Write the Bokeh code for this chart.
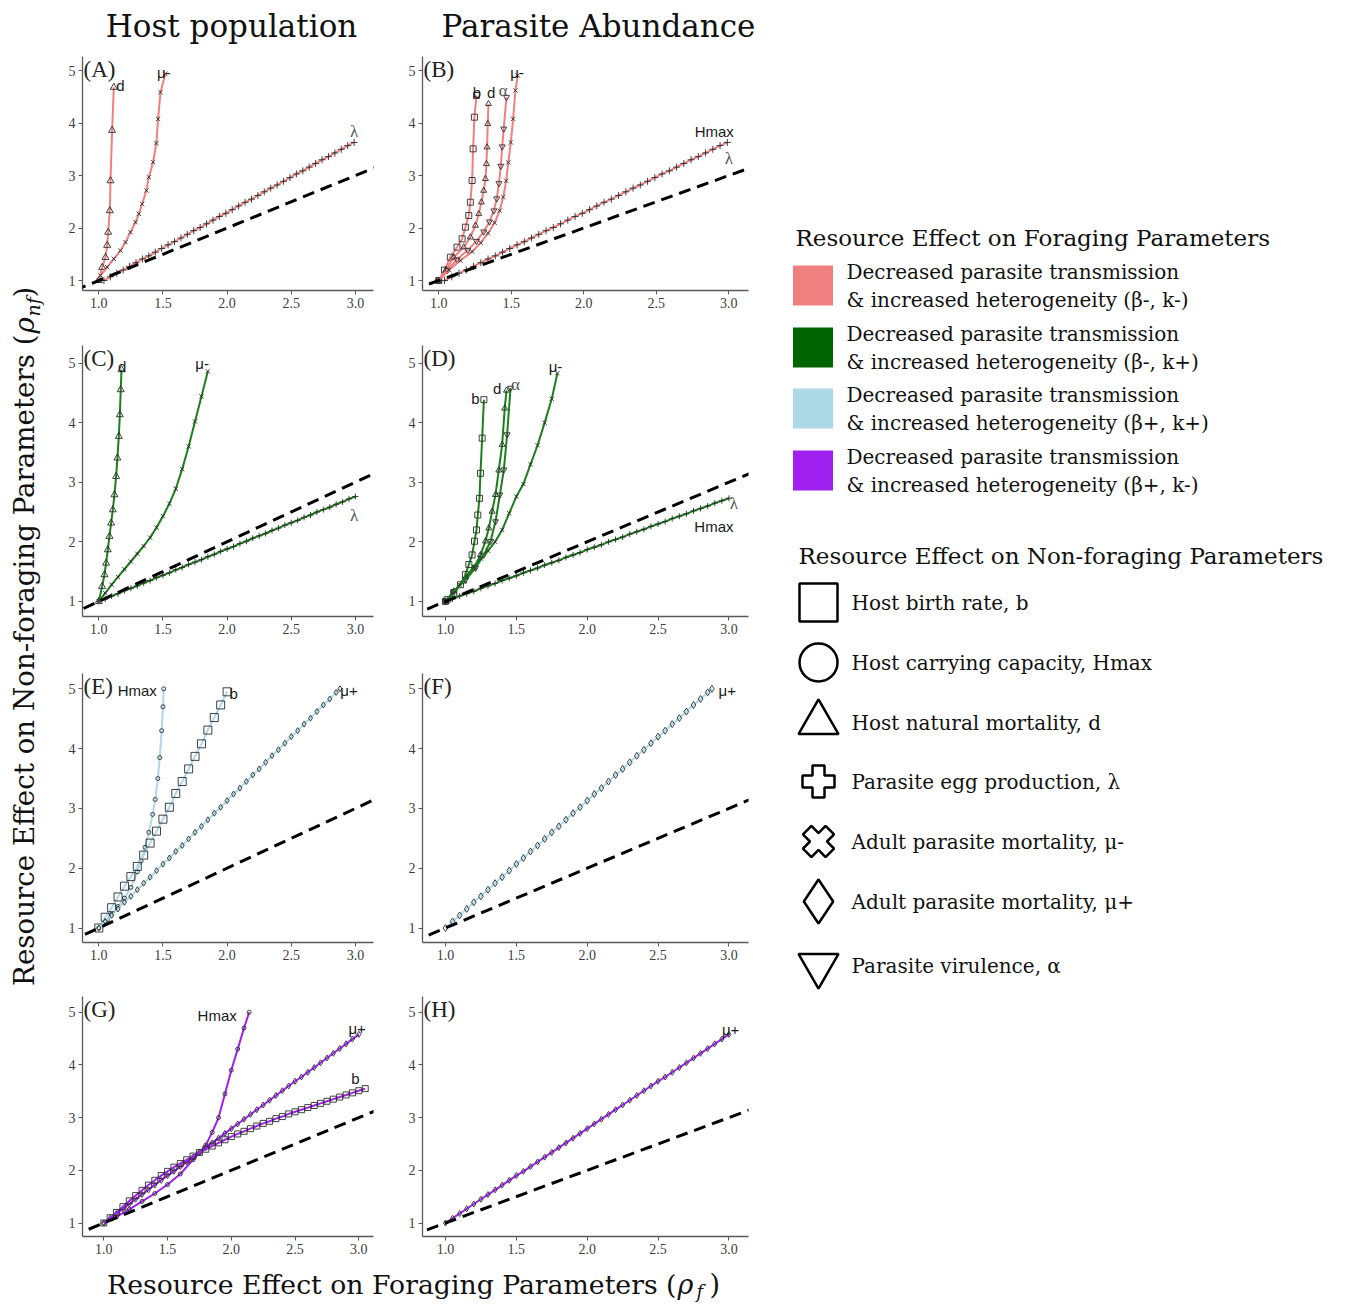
from math import pi
from bokeh.plotting import figure
from bokeh.models import Range1d, Label, Slope, FixedTicker, PrintfTickFormatter
from bokeh.layouts import row, column
from bokeh.core.properties import value
from bokeh.embed import file_html
from bokeh.resources import INLINE

# ---------------- colours / fonts ----------------
PINK = "#F08080"
DKGREEN = "#006400"
GREEN_LINE = "#1c7f1c"
LBLUE = "#ADD8E6"
PURPLE = "#A020F0"
SERIF = "DejaVu Serif"
TIMES = "Liberation Serif"
SANS = "Liberation Sans"

# ---------------- data ----------------
X_TICKS = [1.0, 1.5, 2.0, 2.5, 3.0]
Y_TICKS = [1, 2, 3, 4, 5]

# Panel A  (host population, beta-, k-)
A_d_x = [1.0, 1.026, 1.052, 1.065, 1.073, 1.086, 1.091, 1.104, 1.117]
A_d_y = [1.0, 1.25, 1.44, 1.67, 1.92, 2.33, 2.90, 3.86, 4.68]
A_mum_x = [1.0, 1.013, 1.065, 1.117, 1.169, 1.208, 1.247, 1.286, 1.312, 1.338, 1.371, 1.390, 1.423, 1.449, 1.462, 1.481, 1.519]
A_mum_y = [1.0, 1.095, 1.254, 1.413, 1.571, 1.730, 1.921, 2.111, 2.270, 2.460, 2.714, 2.968, 3.254, 3.616, 4.079, 4.587, 4.937]
A_lam_x = [1.04, 1.09, 1.14, 1.19, 1.24, 1.29, 1.34, 1.39, 1.44, 1.49, 1.54, 1.59, 1.64, 1.69, 1.74, 1.79, 1.84, 1.89, 1.94, 1.99,
           2.04, 2.09, 2.14, 2.19, 2.24, 2.29, 2.34, 2.39, 2.44, 2.49, 2.54, 2.59, 2.64, 2.69, 2.74, 2.79, 2.84, 2.89, 2.94, 2.99]
A_lam_y = [1.00, 1.07, 1.14, 1.20, 1.27, 1.34, 1.41, 1.47, 1.54, 1.61, 1.68, 1.74, 1.81, 1.88, 1.95, 2.01, 2.08, 2.15, 2.22, 2.28,
           2.35, 2.42, 2.49, 2.55, 2.62, 2.69, 2.76, 2.82, 2.89, 2.96, 3.03, 3.09, 3.16, 3.23, 3.30, 3.36, 3.43, 3.50, 3.57, 3.63]

# Panel B  (parasite abundance, beta-, k-)
B_b_x = [1.0, 1.04, 1.08, 1.126, 1.161, 1.184, 1.207, 1.218, 1.230, 1.237, 1.246, 1.260]
B_b_y = [1.0, 1.20, 1.444, 1.635, 1.794, 2.016, 2.238, 2.492, 2.905, 3.508, 4.111, 4.524]
B_d_x = [1.0, 1.05, 1.103, 1.172, 1.218, 1.253, 1.276, 1.294, 1.310, 1.322, 1.329, 1.333, 1.338, 1.343]
B_d_y = [1.0, 1.20, 1.444, 1.635, 1.825, 2.048, 2.270, 2.492, 2.714, 2.937, 3.222, 3.54, 3.984, 4.365]
B_alpha_x = [1.0, 1.06, 1.126, 1.20, 1.26, 1.31, 1.35, 1.38, 1.40, 1.415, 1.428, 1.438, 1.448, 1.467]
B_alpha_y = [1.0, 1.20, 1.40, 1.58, 1.75, 1.93, 2.12, 2.33, 2.56, 2.85, 3.18, 3.55, 3.89, 4.49]
B_mum_x = [1.0, 1.07, 1.149, 1.23, 1.29, 1.34, 1.385, 1.42, 1.445, 1.465, 1.48, 1.497, 1.513, 1.529, 1.545]
B_mum_y = [1.0, 1.20, 1.38, 1.55, 1.72, 1.90, 2.10, 2.33, 2.59, 2.90, 3.25, 3.63, 4.08, 4.62, 4.905]
B_lam_x = A_lam_x
B_lam_y = A_lam_y

# Panel C  (host population, beta-, k+)
C_d_x = [1.0, 1.026, 1.044, 1.057, 1.070, 1.083, 1.096, 1.109, 1.122, 1.135, 1.145, 1.156, 1.164, 1.171, 1.177]
C_d_y = [1.0, 1.252, 1.448, 1.643, 1.867, 2.091, 2.315, 2.538, 2.790, 3.098, 3.406, 3.769, 4.133, 4.552, 4.888]
C_mum_x = [1.0, 1.05, 1.1, 1.15, 1.2, 1.25, 1.3, 1.35, 1.4, 1.45, 1.5, 1.55, 1.6, 1.65, 1.7, 1.75, 1.8, 1.85]
C_mum_y = [1.0, 1.14, 1.28, 1.41, 1.54, 1.67, 1.80, 1.93, 2.07, 2.24, 2.43, 2.64, 2.89, 3.22, 3.60, 4.02, 4.44, 4.86]
C_lam_x = [1.00, 1.05, 1.10, 1.15, 1.20, 1.25, 1.30, 1.35, 1.40, 1.45, 1.50, 1.55, 1.60, 1.65, 1.70, 1.75, 1.80, 1.85, 1.90, 1.95, 2.00,
           2.05, 2.10, 2.15, 2.20, 2.25, 2.30, 2.35, 2.40, 2.45, 2.50, 2.55, 2.60, 2.65, 2.70, 2.75, 2.80, 2.85, 2.90, 2.95, 3.00]
C_lam_y = [1.00, 1.04, 1.09, 1.13, 1.18, 1.22, 1.26, 1.31, 1.35, 1.40, 1.44, 1.48, 1.53, 1.57, 1.62, 1.66, 1.70, 1.75, 1.79, 1.84, 1.88,
           1.92, 1.97, 2.01, 2.06, 2.10, 2.14, 2.19, 2.23, 2.28, 2.32, 2.36, 2.41, 2.45, 2.50, 2.54, 2.58, 2.63, 2.67, 2.72, 2.76]

# Panel D  (parasite abundance, beta-, k+)
D_b_x = [1.0, 1.012, 1.059, 1.106, 1.141, 1.165, 1.188, 1.205, 1.219, 1.228, 1.240, 1.247, 1.259, 1.271]
D_b_y = [1.0, 1.03, 1.14, 1.28, 1.45, 1.62, 1.78, 2.01, 2.20, 2.45, 2.73, 3.15, 3.74, 4.385]
D_d_x = [1.0, 1.059, 1.129, 1.200, 1.247, 1.282, 1.306, 1.329, 1.353, 1.376, 1.400, 1.418, 1.431]
D_d_y = [1.0, 1.17, 1.34, 1.56, 1.78, 2.01, 2.23, 2.51, 2.79, 3.20, 3.63, 4.24, 4.54]
D_alpha_x = [1.0, 1.059, 1.141, 1.212, 1.271, 1.318, 1.353, 1.384, 1.412, 1.435, 1.459]
D_alpha_y = [1.0, 1.17, 1.36, 1.56, 1.78, 2.01, 2.34, 2.79, 3.21, 3.80, 4.58]
D_mum_x = [1.0, 1.05, 1.1, 1.15, 1.2, 1.25, 1.3, 1.35, 1.4, 1.45, 1.5, 1.55, 1.6, 1.65, 1.7, 1.75, 1.79]
D_mum_y = [1.0, 1.14, 1.28, 1.43, 1.58, 1.72, 1.85, 2.00, 2.20, 2.48, 2.76, 2.97, 3.30, 3.62, 4.00, 4.40, 4.83]
D_lam_x = C_lam_x
D_lam_y = [1.00, 1.04, 1.09, 1.13, 1.17, 1.22, 1.26, 1.30, 1.35, 1.39, 1.43, 1.48, 1.52, 1.56, 1.61, 1.65, 1.69, 1.74, 1.78, 1.82, 1.87,
           1.91, 1.95, 2.00, 2.04, 2.08, 2.13, 2.17, 2.21, 2.26, 2.30, 2.34, 2.39, 2.43, 2.47, 2.52, 2.56, 2.60, 2.65, 2.69, 2.73]

# Panel E  (host population, beta+, k+)
E_hmax_x = [1.0, 1.05, 1.1, 1.15, 1.2, 1.25, 1.3, 1.33, 1.36, 1.39, 1.42, 1.44, 1.46, 1.475, 1.49, 1.50, 1.506]
E_hmax_y = [1.0, 1.11, 1.23, 1.36, 1.50, 1.68, 1.94, 2.12, 2.35, 2.60, 2.90, 3.15, 3.50, 3.85, 4.30, 4.70, 5.00]
E_b_x = [1.0, 1.05, 1.1, 1.15, 1.2, 1.25, 1.3, 1.35, 1.4, 1.45, 1.5, 1.55, 1.6, 1.65, 1.7, 1.75, 1.8, 1.85, 1.9, 1.95, 2.0]
E_b_y = [1.0, 1.18, 1.34, 1.52, 1.70, 1.86, 2.03, 2.22, 2.42, 2.62, 2.82, 3.02, 3.25, 3.45, 3.66, 3.87, 4.08, 4.31, 4.52, 4.73, 4.95]
E_mup_x = [1.00, 1.05, 1.10, 1.15, 1.20, 1.25, 1.30, 1.35, 1.40, 1.45, 1.50, 1.55, 1.60, 1.65, 1.70, 1.75, 1.80, 1.85, 1.90, 1.95,
           2.00, 2.05, 2.10, 2.15, 2.20, 2.25, 2.30, 2.35, 2.40, 2.45, 2.50, 2.55, 2.60, 2.65, 2.70, 2.75, 2.80, 2.85, 2.88]
E_mup_y = [1.00, 1.11, 1.21, 1.32, 1.43, 1.53, 1.64, 1.75, 1.85, 1.96, 2.07, 2.17, 2.28, 2.38, 2.49, 2.60, 2.70, 2.81, 2.92, 3.02,
           3.13, 3.24, 3.34, 3.45, 3.56, 3.66, 3.77, 3.88, 3.98, 4.09, 4.20, 4.30, 4.41, 4.51, 4.62, 4.73, 4.83, 4.94, 5.00]

# Panel F  (parasite abundance, beta+, k+)
F_mup_x = E_mup_x
F_mup_y = E_mup_y

# Panel G  (host population, beta+, k-)
G_hmax_x = [1.0, 1.1, 1.2, 1.3, 1.4, 1.5, 1.6, 1.7, 1.75, 1.8, 1.85, 1.9, 1.95, 2.0, 2.05, 2.1, 2.14]
G_hmax_y = [1.0, 1.12, 1.26, 1.41, 1.56, 1.73, 1.93, 2.20, 2.33, 2.48, 2.72, 3.00, 3.45, 3.90, 4.30, 4.70, 5.00]
G_mup_x = C_lam_x
G_mup_y = [1.00, 1.09, 1.18, 1.27, 1.36, 1.45, 1.54, 1.63, 1.72, 1.81, 1.90, 1.98, 2.07, 2.16, 2.25, 2.34, 2.43, 2.52, 2.61, 2.70, 2.79,
           2.88, 2.97, 3.06, 3.15, 3.24, 3.33, 3.42, 3.51, 3.60, 3.69, 3.77, 3.86, 3.95, 4.04, 4.13, 4.22, 4.31, 4.40, 4.49, 4.58]
G_b_x = [1.00, 1.05, 1.10, 1.15, 1.20, 1.25, 1.30, 1.35, 1.40, 1.45, 1.50, 1.55, 1.60, 1.65, 1.70, 1.75, 1.80, 1.85, 1.90, 1.95, 2.00,
         2.05, 2.10, 2.15, 2.20, 2.25, 2.30, 2.35, 2.40, 2.45, 2.50, 2.55, 2.60, 2.65, 2.70, 2.75, 2.80, 2.85, 2.90, 2.95, 3.00, 3.05]
G_b_y = [1.00, 1.10, 1.20, 1.31, 1.42, 1.52, 1.62, 1.72, 1.81, 1.90, 1.98, 2.06, 2.13, 2.20, 2.27, 2.34, 2.40, 2.46, 2.52, 2.58, 2.64,
         2.69, 2.74, 2.79, 2.84, 2.89, 2.93, 2.98, 3.02, 3.07, 3.11, 3.15, 3.19, 3.23, 3.27, 3.31, 3.35, 3.39, 3.43, 3.47, 3.51, 3.55]

# Panel H  (parasite abundance, beta+, k-)
H_mup_x = C_lam_x
H_mup_y = G_mup_y

# legend content
FORAGING_COLOURS = [PINK, DKGREEN, LBLUE, PURPLE]
FORAGING_LABELS = [
    ("Decreased parasite transmission", "& increased heterogeneity (β-, k-)"),
    ("Decreased parasite transmission", "& increased heterogeneity (β-, k+)"),
    ("Decreased parasite transmission", "& increased heterogeneity (β+, k+)"),
    ("Decreased parasite transmission", "& increased heterogeneity (β+, k-)"),
]
NONFOR_MARKERS = ["square", "circle", "triangle", "plus", "plus", "diamond", "inverted_triangle"]
NONFOR_LABELS = ["Host birth rate, b", "Host carrying capacity, Hmax", "Host natural mortality, d",
                 "Parasite egg production, λ", "Adult parasite mortality, μ-", "Adult parasite mortality, μ+",
                 "Parasite virulence, α"]

MK = {"b": "square", "Hmax": "circle", "d": "triangle", "lam": "cross", "mum": "x", "mup": "diamond", "alpha": "inverted_triangle"}


# ---------------- helpers ----------------
def deco(x0, y0, w, h):
    p = figure(width=w, height=h, x_range=Range1d(x0, x0 + w), y_range=Range1d(y0 + h, y0),
               toolbar_location=None, output_backend="svg", x_axis_location=None, y_axis_location=None)
    p.min_border_left = p.min_border_right = p.min_border_top = p.min_border_bottom = 0
    p.grid.visible = False
    p.outline_line_color = None
    return p


def panel(letter, xr, yr, w, h, mb, series, notes):
    p = figure(width=w, height=h, x_range=Range1d(*xr), y_range=Range1d(*yr),
               toolbar_location=None, output_backend="svg")
    p.min_border_left, p.min_border_right, p.min_border_top, p.min_border_bottom = mb
    p.grid.visible = False
    p.outline_line_color = None
    for xs, ys, col, key, ms in series:
        p.line(xs, ys, line_color=col, line_width=2)
        p.scatter(xs, ys, marker=MK[key], size=ms, fill_color=None, line_color="#2b2b2b", line_width=0.9)
    p.add_layout(Slope(gradient=1, y_intercept=0, line_color="black", line_width=3, line_dash="12 7"))
    for tx, ty, t, kind in notes:
        if kind == "serif":
            p.text([tx], [ty], text=[t], text_font=value(TIMES), text_font_size=value("17px"),
                   text_color="#555555", text_align="center", text_baseline="middle")
        else:
            p.text([tx], [ty], text=[t], text_font=value(SANS), text_font_size=value("15px"),
                   text_color="#1a1a1a", text_align="center", text_baseline="middle")
    p.xaxis.ticker = FixedTicker(ticks=X_TICKS, minor_ticks=[])
    p.xaxis.formatter = PrintfTickFormatter(format="%.1f")
    p.yaxis.ticker = FixedTicker(ticks=Y_TICKS, minor_ticks=[])
    for ax in (p.xaxis, p.yaxis):
        ax.axis_line_color = "#5a5a5a"
        ax.axis_line_width = 1.3
        ax.major_tick_line_color = "#5a5a5a"
        ax.major_tick_out = 4
        ax.major_tick_in = 0
        ax.minor_tick_line_color = None
        ax.major_label_text_font = TIMES
        ax.major_label_text_font_size = "14px"
        ax.major_label_text_color = "#3d3d3d"
        ax.major_label_standoff = 3
    p.add_layout(Label(x=xr[0], y=yr[1], text="(%s)" % letter, text_align="left", text_baseline="top",
                       text_font=TIMES, text_font_size="23px", text_color="#222222", x_offset=1))
    return p


# geometry of the grid
LW, RW = 342, 378
LMB = (32, 19)
RMB = (30, 22)
ROWS = [  # (height, top, bottom, y-range)
    (290, 6, 50, (0.81, 5.267)),
    (328, 5, 52, (0.747, 5.294)),
    (323, 5, 49, (0.758, 5.256)),
    (273, 5, 28, (0.744, 5.298)),
]
XR_L = (0.873, 3.141)
XR_G = (0.833, 3.115)
XR_B = (0.888, 3.136)
XR_R = (0.838, 3.138)


def mk_panel(letter, col, ri, xr, series, notes):
    h, t, b, yr = ROWS[ri]
    if col == 0:
        return panel(letter, xr, yr, LW, h, (LMB[0], LMB[1], t, b), series, notes)
    return panel(letter, xr, yr, RW, h, (RMB[0], RMB[1], t, b), series, notes)


pA = mk_panel("A", 0, 0, XR_L,
              [(A_d_x, A_d_y, PINK, "d", 7), (A_mum_x, A_mum_y, PINK, "mum", 6), (A_lam_x, A_lam_y, PINK, "lam", 7)],
              [(1.169, 4.71, "d", "sans"), (1.506, 4.97, "μ-", "sans"), (2.99, 3.83, "λ", "serif")])
pB = mk_panel("B", 1, 0, XR_B,
              [(B_b_x, B_b_y, PINK, "b", 6), (B_d_x, B_d_y, PINK, "d", 6), (B_alpha_x, B_alpha_y, PINK, "alpha", 6),
               (B_mum_x, B_mum_y, PINK, "mum", 6), (B_lam_x, B_lam_y, PINK, "lam", 7)],
              [(1.264, 4.59, "b", "sans"), (1.361, 4.59, "d", "sans"), (1.444, 4.62, "α", "serif"),
               (1.54, 4.97, "μ-", "sans"), (2.90, 3.83, "Hmax", "sans"), (3.0, 3.33, "λ", "serif")])
pC = mk_panel("C", 0, 1, XR_L,
              [(C_d_x, C_d_y, GREEN_LINE, "d", 7), (C_mum_x, C_mum_y, GREEN_LINE, "mum", 6),
               (C_lam_x, C_lam_y, GREEN_LINE, "lam", 6)],
              [(1.182, 4.95, "d", "sans"), (1.805, 5.0, "μ-", "sans"), (2.99, 2.45, "λ", "serif")])
pD = mk_panel("D", 1, 1, XR_R,
              [(D_b_x, D_b_y, GREEN_LINE, "b", 6), (D_d_x, D_d_y, GREEN_LINE, "d", 6),
               (D_alpha_x, D_alpha_y, GREEN_LINE, "alpha", 6), (D_mum_x, D_mum_y, GREEN_LINE, "mum", 6),
               (D_lam_x, D_lam_y, GREEN_LINE, "lam", 6)],
              [(1.212, 4.41, "b", "sans"), (1.365, 4.58, "d", "sans"), (1.494, 4.64, "α", "serif"),
               (1.776, 4.94, "μ-", "sans"), (3.035, 2.65, "λ", "serif"), (2.894, 2.26, "Hmax", "sans")])
pE = mk_panel("E", 0, 2, XR_L,
              [(E_hmax_x, E_hmax_y, LBLUE, "Hmax", 4), (E_b_x, E_b_y, LBLUE, "b", 8),
               (E_mup_x, E_mup_y, LBLUE, "mup", 6)],
              [(1.30, 4.97, "Hmax", "sans"), (2.052, 4.92, "b", "sans"), (2.95, 4.97, "μ+", "sans")])
pF = mk_panel("F", 1, 2, XR_R,
              [(F_mup_x, F_mup_y, LBLUE, "mup", 7)],
              [(2.988, 4.97, "μ+", "sans")])
pG = mk_panel("G", 0, 3, XR_G,
              [(G_hmax_x, G_hmax_y, PURPLE, "Hmax", 4), (G_mup_x, G_mup_y, PURPLE, "mup", 6),
               (G_b_x, G_b_y, PURPLE, "b", 6)],
              [(1.889, 4.94, "Hmax", "sans"), (2.987, 4.685, "μ+", "sans"), (2.974, 3.74, "b", "sans")])
pH = mk_panel("H", 1, 3, XR_R,
              [(H_mup_x, H_mup_y, PURPLE, "mup", 6)],
              [(3.012, 4.68, "μ+", "sans")])

# ---------------- header, axis titles (page-pixel coordinates) ----------------
head = deco(50, 0, 720, 50)
head.add_layout(Label(x=231, y=25, text="Host population", text_align="center", text_baseline="middle",
                      text_font=SERIF, text_font_size="31px", text_color="#111111"))
head.add_layout(Label(x=598, y=25, text="Parasite Abundance", text_align="center", text_baseline="middle",
                      text_font=SERIF, text_font_size="31px", text_color="#111111"))

xlab = deco(50, 1264, 720, 41)
xlab.add_layout(Label(x=676, y=1284, text="Resource Effect on Foraging Parameters (", text_align="right",
                      text_baseline="middle", text_font=SERIF, text_font_size="26.7px", text_color="#111111"))
xlab.add_layout(Label(x=677, y=1284, text="ρ", text_align="left", text_baseline="middle", text_font=SERIF,
                      text_font_style="italic", text_font_size="27px", text_color="#111111"))
xlab.add_layout(Label(x=696, y=1291, text="f", text_align="left", text_baseline="middle", text_font=SERIF,
                      text_font_style="italic", text_font_size="18px", text_color="#111111"))
xlab.add_layout(Label(x=709, y=1284, text=")", text_align="left", text_baseline="middle", text_font=SERIF,
                      text_font_size="27px", text_color="#111111"))

ylab = deco(0, 0, 50, 1305)
ylab.add_layout(Label(x=24, y=334, text="Resource Effect on Non-foraging Parameters (", text_align="right",
                      text_baseline="middle", angle=pi / 2, text_font=SERIF, text_font_size="27.7px",
                      text_color="#111111"))
ylab.add_layout(Label(x=24, y=333, text="ρ", text_align="left", text_baseline="middle", angle=pi / 2,
                      text_font=SERIF, text_font_style="italic", text_font_size="27.7px", text_color="#111111"))
ylab.add_layout(Label(x=32, y=316, text="nf", text_align="left", text_baseline="middle", angle=pi / 2,
                      text_font=SERIF, text_font_style="italic", text_font_size="19px", text_color="#111111"))
ylab.add_layout(Label(x=24, y=297, text=")", text_align="left", text_baseline="middle", angle=pi / 2,
                      text_font=SERIF, text_font_size="27.7px", text_color="#111111"))

# ---------------- legend panel ----------------
leg = deco(770, 0, 571, 1305)
leg.text([795], [237], text=["Resource Effect on Foraging Parameters"], text_font=value(SERIF),
         text_font_size=value("23px"), text_color="#111111", text_baseline="alphabetic")
sw_y = [285, 347, 408, 470]
leg.rect(x=[812.5] * 4, y=sw_y, width=40, height=40, fill_color=FORAGING_COLOURS, line_color=None)
for yy, (l1, l2) in zip(sw_y, FORAGING_LABELS):
    leg.text([846, 846], [yy - 14, yy + 14], text=[l1, l2], text_font=value(SERIF), text_font_size=value("20px"),
             text_color="#111111", text_baseline="alphabetic")

leg.text([798], [555], text=["Resource Effect on Non-foraging Parameters"], text_font=value(SERIF),
         text_font_size=value("23px"), text_color="#111111", text_baseline="alphabetic")
mk_y = [602, 662, 722, 781, 841, 901, 965]
leg.scatter(x=[818] * 7, y=mk_y, marker=NONFOR_MARKERS, size=[38, 38, 40, 32, 32, 44, 40],
            angle=[0, 0, 0, 0, pi / 4, 0, 0], fill_color="white", line_color="black", line_width=2.5)
leg.text([851] * 7, [y for y in mk_y], text=NONFOR_LABELS, text_font=value(SERIF),
         text_font_size=value("20px"), text_color="#111111", text_baseline="alphabetic")

grid = column(head, row(pA, pB), row(pC, pD), row(pE, pF), row(pG, pH), xlab)
page = row(ylab, grid, leg)

open("out.html", "w").write(file_html(page, INLINE))
